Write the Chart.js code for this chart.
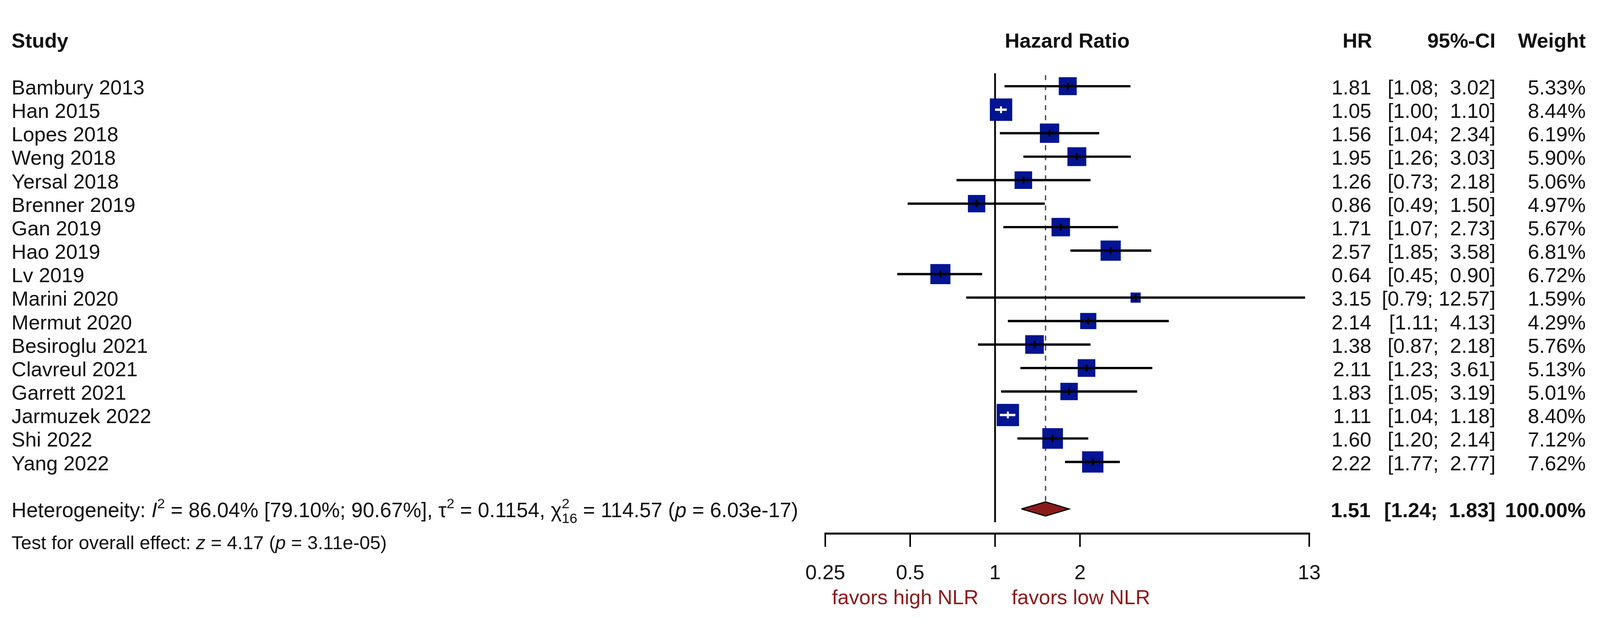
<!DOCTYPE html>
<html>
<head>
<meta charset="utf-8">
<script src="https://cdn.jsdelivr.net/npm/chart.js@4.4.1/dist/chart.umd.min.js"></script>
<style>
  html, body { margin: 0; padding: 0; background: #fff; overflow: hidden; }
  #forest { display: block; }
</style>
</head>
<body>
<canvas id="forest"></canvas>
<script>
// --- data ---
const studies = ['Bambury 2013','Han 2015','Lopes 2018','Weng 2018','Yersal 2018','Brenner 2019','Gan 2019','Hao 2019','Lv 2019','Marini 2020','Mermut 2020','Besiroglu 2021','Clavreul 2021','Garrett 2021','Jarmuzek 2022','Shi 2022','Yang 2022'];
const hr     = [1.81, 1.05, 1.56, 1.95, 1.26, 0.86, 1.71, 2.57, 0.64, 3.15, 2.14, 1.38, 2.11, 1.83, 1.11, 1.60, 2.22];
const ciLow  = [1.08, 1.00, 1.04, 1.26, 0.73, 0.49, 1.07, 1.85, 0.45, 0.79, 1.11, 0.87, 1.23, 1.05, 1.04, 1.20, 1.77];
const ciHigh = [3.02, 1.10, 2.34, 3.03, 2.18, 1.50, 2.73, 3.58, 0.90, 12.57, 4.13, 2.18, 3.61, 3.19, 1.18, 2.14, 2.77];
const weight = [5.33, 8.44, 6.19, 5.90, 5.06, 4.97, 5.67, 6.81, 6.72, 1.59, 4.29, 5.76, 5.13, 5.01, 8.40, 7.12, 7.62];
const pooled = [1.51, 1.24, 1.83];   // estimate, lower, upper
const pooledWeight = '100.00%';
const xTicks = [0.25, 0.5, 1, 2, 13];

// --- layout, designed on a 4149 x 1591 page and scaled to the viewport ---
const W = 4149, H = 1591;
const VW = window.innerWidth || W, VH = window.innerHeight || H;
const sx = VW / W, sy = VH / H, s = Math.min(sx, sy);
const ROW0 = 190, ROW_PX = 63.4;
const X_LEFT = 2140, X_RIGHT = 3395;
const AXIS_Y = 1367;
const FONT = '"Liberation Sans", Arial, Helvetica, sans-serif';
const FS = 53;
const BLUE = '#021491';
const DARKRED = '#8b1a1a';

const canvas = document.getElementById('forest');
canvas.width = VW;
canvas.height = VH;

const nStudies = studies.length;
const summaryRow = nStudies + 1;
const pxToRows = px => px / ROW_PX;
const font = (size, style) => `${style ? style + ' ' : ''}${size * sx}px ${FONT}`;

function fmt(v){ return v.toFixed(2); }

// meta-style CI text: upper bounds padded to a common width
const hiWidth = Math.max(...ciHigh.map(v => fmt(v).length));
function ciText(lo, hi){
  const h = fmt(hi);
  return '[' + fmt(lo) + '; ' + ' '.repeat(hiWidth - h.length) + h + ']';
}

// square side (design px) from weight
const sides = weight.map(w => 19.3 * Math.sqrt(w) + 2);

// white CI line when it fits inside the square
function logPx(v){ return (Math.log2(v) - Math.log2(0.25)) / (Math.log2(13) - Math.log2(0.25)) * (X_RIGHT - X_LEFT); }
const ciInside = hr.map((h, i) => (logPx(ciHigh[i]) - logPx(ciLow[i])) < sides[i]);

const datasets = [];

// reference line at 1 (solid) and at the pooled estimate (dashed)
datasets.push({
  data: [{x: 1, y: pxToRows(155 - ROW0)}, {x: 1, y: pxToRows(AXIS_Y - ROW0)}],
  showLine: true, borderColor: '#000', borderWidth: 4.5 * s, pointRadius: 0, order: 6
});
datasets.push({
  data: [{x: pooled[0], y: pxToRows(160 - ROW0)}, {x: pooled[0], y: summaryRow - pxToRows(20)}],
  showLine: true, borderColor: '#505050', borderWidth: 3.5 * s, borderDash: [13 * s, 13 * s], pointRadius: 0, order: 5
});

// squares
datasets.push({
  data: hr.map((h, i) => ({x: h, y: i})),
  pointStyle: 'rect',
  pointRadius: sides.map(v => v * s / 2 / Math.SQRT1_2),
  backgroundColor: BLUE, borderWidth: 0, order: 3
});

// CI lines
hr.forEach((h, i) => {
  datasets.push({
    data: [{x: ciLow[i], y: i}, {x: ciHigh[i], y: i}],
    showLine: true, borderColor: ciInside[i] ? '#fff' : '#000',
    borderWidth: 6 * s, borderCapStyle: 'butt', pointRadius: 0, order: 2
  });
});

// short vertical mark at each estimate
datasets.push({
  data: hr.map((h, i) => ({x: h, y: i})),
  pointStyle: 'line', rotation: 90, pointRadius: 9 * s,
  borderWidth: 5 * s, borderColor: ciInside.map(c => c ? '#fff' : '#000'), order: 1
});

// pooled diamond
const dh = pxToRows(19);
datasets.push({
  data: [
    {x: pooled[1], y: summaryRow}, {x: pooled[0], y: summaryRow - dh},
    {x: pooled[2], y: summaryRow}, {x: pooled[0], y: summaryRow + dh},
    {x: pooled[1], y: summaryRow}
  ],
  showLine: true, fill: 'shape', backgroundColor: DARKRED, borderColor: '#000',
  borderWidth: 3 * s, borderJoinStyle: 'miter', pointRadius: 0, order: 0
});

function drawRich(ctx, x, y, parts, size){
  const sup = size * 0.68;
  for (const p of parts){
    const [t, k] = p;
    if (k === 'supsub'){
      const [a, b] = t;
      ctx.font = font(sup);
      ctx.fillText(a, x, y - size * 0.42 * sy);
      ctx.fillText(b, x, y + size * 0.28 * sy);
      x += Math.max(ctx.measureText(a).width, ctx.measureText(b).width);
      continue;
    }
    if (k === 'sup'){
      ctx.font = font(sup);
      ctx.fillText(t, x, y - size * 0.42 * sy);
    } else {
      ctx.font = font(size, k === 'i' ? 'italic' : '');
      ctx.fillText(t, x, y);
    }
    x += ctx.measureText(t).width;
  }
}

const textPlugin = {
  id: 'forestText',
  afterDatasetsDraw(chart){
    const ctx = chart.ctx;
    const xs = chart.scales.x, ys = chart.scales.y;
    const base = row => ys.getPixelForValue(row) + 21 * sy;
    const X = v => v * sx;
    ctx.save();
    ctx.fillStyle = '#111';
    ctx.textBaseline = 'alphabetic';

    // header
    ctx.font = font(FS, 'bold');
    ctx.textAlign = 'left';
    ctx.fillText('Study', X(30), base(-2));
    ctx.textAlign = 'center';
    ctx.fillText('Hazard Ratio', X((X_LEFT + X_RIGHT) / 2), base(-2));
    ctx.textAlign = 'right';
    ctx.fillText('HR', X(3558), base(-2));
    ctx.fillText('95%-CI', X(3878), base(-2));
    ctx.fillText('Weight', X(4112), base(-2));

    // study rows
    ctx.font = font(FS);
    studies.forEach((name, i) => {
      const y = base(i);
      ctx.textAlign = 'left';
      ctx.fillText(name, X(30), y);
      ctx.textAlign = 'right';
      ctx.fillText(fmt(hr[i]), X(3556), y);
      ctx.fillText(ciText(ciLow[i], ciHigh[i]), X(3878), y);
      ctx.fillText(weight[i].toFixed(2) + '%', X(4112), y);
    });

    // summary row
    const ys0 = base(summaryRow);
    ctx.font = font(FS, 'bold');
    ctx.textAlign = 'right';
    ctx.fillText(fmt(pooled[0]), X(3554), ys0);
    ctx.fillText(ciText(pooled[1], pooled[2]), X(3878), ys0);
    ctx.fillText(pooledWeight, X(4112), ys0);
    ctx.textAlign = 'left';

    drawRich(ctx, X(30), ys0, [
      ['Heterogeneity: ', 'n'], ['I', 'i'], ['2', 'sup'],
      [' = 86.04% [79.10%; 90.67%], \u03c4', 'n'], ['2', 'sup'],
      [' = 0.1154, \u03c7', 'n'], [['2', '16'], 'supsub'],
      [' = 114.57 (', 'n'], ['p', 'i'], [' = 6.03e-17)', 'n']
    ], 53.5);
    drawRich(ctx, X(30), 1407 * sy, [
      ['Test for overall effect: ', 'n'], ['z', 'i'], [' = 4.17 (', 'n'],
      ['p', 'i'], [' = 3.11e-05)', 'n']
    ], 49);

    // x axis
    const ay = AXIS_Y * sy;
    const x0 = xs.getPixelForValue(xTicks[0]);
    const x1 = xs.getPixelForValue(xTicks[xTicks.length - 1]);
    ctx.strokeStyle = '#000';
    ctx.lineWidth = 5 * s;
    ctx.lineCap = 'butt';
    ctx.beginPath();
    ctx.moveTo(x0 - 2 * s, ay);
    ctx.lineTo(x1 + 2 * s, ay);
    ctx.stroke();
    ctx.lineWidth = 4 * s;
    ctx.font = font(FS);
    ctx.textAlign = 'center';
    xTicks.forEach(t => {
      const px = xs.getPixelForValue(t);
      ctx.beginPath();
      ctx.moveTo(px, ay);
      ctx.lineTo(px, ay + 34 * sy);
      ctx.stroke();
      ctx.fillText(String(t), px, 1484 * sy);
    });

    // favours labels
    const one = xs.getPixelForValue(1);
    ctx.fillStyle = DARKRED;
    ctx.textAlign = 'right';
    ctx.fillText('favors high NLR', one - X(43), 1548 * sy);
    ctx.textAlign = 'left';
    ctx.fillText('favors low NLR', one + X(43), 1548 * sy);
    ctx.restore();
  }
};

new Chart(canvas, {
  type: 'scatter',
  data: { datasets },
  options: {
    responsive: false,
    animation: false,
    devicePixelRatio: 1,
    layout: { padding: { left: X_LEFT * sx, right: (W - X_RIGHT) * sx, top: 0, bottom: 0 } },
    elements: { line: { tension: 0 } },
    plugins: { legend: { display: false }, tooltip: { enabled: false } },
    scales: {
      x: { type: 'logarithmic', min: xTicks[0], max: xTicks[xTicks.length - 1], display: false },
      y: { type: 'linear', reverse: true, min: -ROW0 / ROW_PX, max: (H - ROW0) / ROW_PX, display: false }
    }
  },
  plugins: [textPlugin]
});
</script>
</body>
</html>
